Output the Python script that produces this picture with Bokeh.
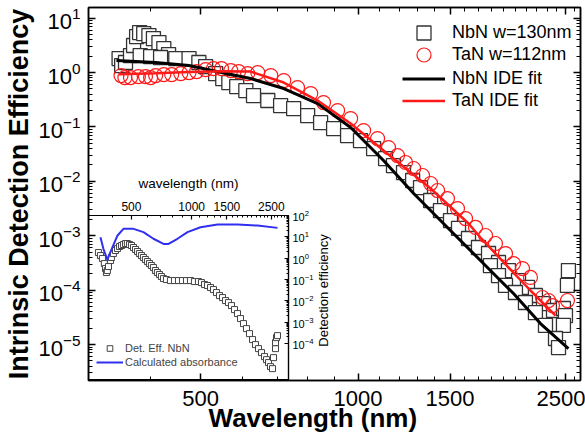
from bokeh.plotting import figure
from bokeh.models import (Range1d, LogAxis, FixedTicker, BasicTickFormatter, LinearScale,
                          Legend, LegendItem)
from bokeh.embed import file_html
from bokeh.resources import INLINE

# ---------------- main panel data ----------------
series_labels = ["NbN w=130nm", "TaN w=112nm", "NbN IDE fit", "TaN IDE fit"]
x_title = "Wavelength (nm)"
y_title = "Intrinsic Detection Efficiency"

nbn_wl = [349, 353, 359, 367, 372, 377, 382, 389, 398, 406, 416, 425, 434,
          383, 401, 419, 448, 475, 496,
          511, 534, 551, 566, 586, 610, 631, 672, 711, 753, 801, 848, 898, 955,
          1011, 1071, 1129, 1169, 1222, 1272, 1317, 1377, 1438, 1503, 1557, 1627,
          1700, 1777, 1857, 1940, 2028, 2110, 2185, 2264, 2366, 2472, 2494, 2472,
          1792, 1857, 1915, 2001, 2091, 2185, 2284, 2387, 2419,
          2527, 2516]
nbn_de = [1.81, 1.345, 1.53, 2.05, 3.14, 4.59, 5.43, 5.21, 4.79, 4.22, 3.56, 2.76, 2.14,
          2.05, 1.97, 1.89, 1.81, 1.81, 1.53,
          1.29, 0.958, 0.776, 0.655, 0.553, 0.467, 0.378, 0.306, 0.247, 0.218, 0.162, 0.1205, 0.0935, 0.0695,
          0.0562, 0.0401, 0.0262, 0.0195, 0.0145, 0.01035, 0.00769, 0.00444, 0.0029, 0.0019, 0.00136, 0.00089,
          6.07e-4, 4.71e-4, 3.22e-4, 2.29e-4, 1.5e-4, 1.12e-4, 7.96e-5, 5.67e-5, 4.22e-5, 4.59e-5, 3.41e-5, 2.24e-5,
          2.83e-4, 1.85e-4, 1.22e-4, 9.04e-5, 5.92e-5, 3.87e-5, 2.24e-5, 1.29e-5, 8.8e-6,
          2.29e-4, 1.22e-4]

tan_wl = [352, 358, 367, 380, 392, 401, 410, 425, 440, 458, 475, 491, 511, 529, 548, 571,
          591, 615, 643, 681, 721, 766, 812, 859, 914, 968, 1025, 1090, 1144, 1190, 1233,
          1278, 1329, 1377, 1420, 1483, 1550, 1606, 1678, 1754, 1832, 1915, 1984, 2064,
          2138, 2254, 2315, 2355, 2516]
tan_de = [0.881, 0.809, 0.809, 0.844, 0.844, 0.809, 0.881, 0.919, 0.919, 0.958, 1.0, 1.043,
          1.135, 1.184, 1.184, 1.088, 1.043, 0.958, 1.0, 0.881, 0.713, 0.530, 0.411, 0.281,
          0.200, 0.1426, 0.0859, 0.0612, 0.0418, 0.0298, 0.0222, 0.0172, 0.0128, 0.00912,
          0.00678, 0.00483, 0.00316, 0.00207, 0.00142, 0.001009, 7.19e-4, 4.71e-4, 3.08e-4,
          2.49e-4, 1.71e-4, 7.31e-5, 6.44e-5, 5.21e-5, 6.44e-5]

nbn_fit_wl = [345, 410, 475, 548, 623, 721, 837, 968, 1119, 1278, 1483, 1715, 1984, 2234, 2527]
nbn_fit_de = [1.66, 1.53, 1.345, 1.0, 0.776, 0.508, 0.269, 0.0975, 0.0241, 0.00597,
              0.00142, 3.5e-4, 8.66e-5, 2.43e-5, 8.44e-6]

tan_fit_wl = [349, 410, 475, 548, 623, 721, 837, 968, 1119, 1377, 1627, 1715, 1932, 2138, 2387]
tan_fit_de = [0.93, 0.97, 1.02, 1.06, 1.04, 0.655, 0.306, 0.1155, 0.0368, 0.00738,
              0.00168, 9.27e-4, 2.72e-4, 9.84e-5, 3.41e-5]

x_ticks = [500, 1000, 1500, 2500]
x_minor = [v for v in range(400, 2700, 100) if v not in x_ticks]
y_ticks = [1e-5, 1e-4, 1e-3, 1e-2, 1e-1, 1e0, 1e1]
y_minor = [m * 10.0 ** e for e in range(-6, 2) for m in range(2, 10)]

# ---------------- inset data ----------------
inset_labels = ["Det. Eff. NbN", "Calculated absorbance"]
inset_x_title = "wavelength (nm)"
inset_y_title = "Detection efficiency"

inset_wl = [342, 350, 358, 366, 371, 375, 379, 384, 393, 397, 406, 416, 426, 436, 446, 456,
            467, 477, 489, 500, 512, 524, 536, 548, 561, 574, 587, 601, 615, 629, 644, 659,
            674, 690, 706, 723, 748, 783, 820, 859, 899, 942, 986, 1032, 1081, 1119, 1159,
            1199, 1242, 1285, 1330, 1377, 1426, 1476, 1527, 1581, 1637, 1694, 1754, 1815,
            1879, 1945, 2014, 2084, 2158, 2233, 2312, 2366, 2421, 2477, 2535, 2564, 2624,
            2624, 2654, 2685]
inset_de = [1.83, 1.32, 0.957, 0.557, 0.325, 0.211, 0.262, 0.403, 0.771, 1.07, 1.64, 2.28,
            2.82, 3.51, 3.91, 4.34, 4.84, 4.84, 4.34, 3.91, 3.15, 2.54, 2.04, 1.64, 1.32,
            1.07, 0.859, 0.692, 0.557, 0.450, 0.362, 0.262, 0.211, 0.170, 0.137, 0.110,
            0.0989, 0.0887, 0.0887, 0.0887, 0.0887, 0.0887, 0.0887, 0.0796, 0.0796, 0.0714,
            0.0576, 0.0517, 0.0417, 0.0336, 0.0243, 0.0175, 0.0141, 0.0102, 0.00822, 0.00595,
            0.00386, 0.00251, 0.00146, 8.51e-4, 4.95e-4, 2.88e-4, 1.51e-4, 8.79e-5, 5.70e-5,
            3.70e-5, 2.40e-5, 1.73e-5, 1.26e-5, 8.15e-6, 6.56e-6, 2.15e-5, 5.70e-5, 1.09e-4,
            1.87e-4, 2.32e-4]

abs_wl = [350, 362, 379, 402, 426, 456, 512, 574, 644, 723, 766, 849, 953, 1107, 1346,
          1694, 2133, 2685]
abs_val = [0.868, 0.798, 0.732, 0.808, 0.879, 0.919, 0.919, 0.899, 0.859, 0.828, 0.828,
           0.859, 0.899, 0.929, 0.945, 0.945, 0.939, 0.925]

in_x_ticks = [500, 1000, 1500, 2500]
in_x_minor = [v for v in range(400, 3100, 100) if v not in in_x_ticks]
in_y_ticks = [1e-4, 1e-3, 1e-2, 1e-1, 1e0, 1e1, 1e2]
in_y_minor = [m * 10.0 ** e for e in range(-4, 2) for m in range(2, 10)]

FONT = "Liberation Sans"


def style_axis(ax, tick_in=7, minor_in=4, width=1.5):
    ax.major_tick_in = tick_in
    ax.major_tick_out = 0
    ax.minor_tick_in = minor_in
    ax.minor_tick_out = 0
    ax.axis_line_width = width
    ax.axis_line_color = "black"
    ax.major_tick_line_width = width
    ax.minor_tick_line_width = 1.0
    ax.major_tick_line_color = "black"
    ax.minor_tick_line_color = "black"
    ax.major_label_text_font = FONT
    ax.major_label_text_color = "black"
    ax.axis_label_text_font = FONT
    ax.axis_label_text_color = "black"


def place(fig, left, top):
    fig.stylesheets = [":host { position: absolute !important; left: %dpx !important; "
                       "top: %dpx !important; z-index: 10; }" % (left, top)]


# ---------------- main figure ----------------
p = figure(width=585, height=440, x_axis_type="log", y_axis_type="log",
           x_range=Range1d(305, 2665), y_range=Range1d(2.18e-6, 15.7),
           output_backend="svg", toolbar_location=None,
           min_border_left=88, min_border_right=5, min_border_top=7, min_border_bottom=60)
p.grid.visible = False
p.outline_line_color = "black"
p.outline_line_width = 1.5
p.background_fill_color = "white"

r_nbn = p.scatter(nbn_wl, nbn_de, marker="square", size=14, fill_color="white",
                  line_color="#333333", line_width=1.3)
r_tan = p.scatter(tan_wl, tan_de, marker="circle", size=14, fill_alpha=0,
                  line_color="#ff1a1a", line_width=1.2)
r_nfit = p.line(nbn_fit_wl, nbn_fit_de, line_color="black", line_width=3)
r_tfit = p.line(tan_fit_wl, tan_fit_de, line_color="#ff1a1a", line_width=2.5)

xa = p.xaxis[0]
xa.ticker = FixedTicker(ticks=x_ticks, minor_ticks=x_minor)
xa.formatter = BasicTickFormatter()
style_axis(xa)
# trailing no-break spaces move the centred title a little left, as in the reference
xa.axis_label = x_title + "\u00a0" * 6
xa.axis_label_text_font_size = "26px"
xa.axis_label_text_font_style = "bold"
xa.major_label_text_font_size = "22px"
xa.major_label_standoff = 10
xa.axis_label_standoff = -6

ya = p.yaxis[0]
ya.ticker = FixedTicker(ticks=y_ticks, minor_ticks=y_minor)
style_axis(ya)
ya.axis_label = y_title
ya.axis_label_text_font_size = "27px"
ya.axis_label_text_font_style = "bold"
ya.major_label_text_font_size = "22px"
ya.major_label_standoff = 8
ya.axis_label_standoff = 1

top_ax = LogAxis(ticker=FixedTicker(ticks=x_ticks, minor_ticks=x_minor),
                 formatter=BasicTickFormatter(),
                 major_label_text_font_size="1px", major_label_text_alpha=0,
                 major_label_standoff=0)
style_axis(top_ax)
p.add_layout(top_ax, "above")
right_ax = LogAxis(ticker=FixedTicker(ticks=y_ticks, minor_ticks=y_minor),
                   formatter=BasicTickFormatter(),
                   major_label_text_font_size="1px", major_label_text_alpha=0,
                   major_label_standoff=0)
style_axis(right_ax)
p.add_layout(right_ax, "right")

# one single-row legend per series so rows can sit closer than the glyph boxes
legend_rows = [(series_labels[0], r_nbn, 330.5), (series_labels[1], r_tan, 308.5),
               (series_labels[2], r_nfit, 284.5), (series_labels[3], r_tfit, 262.5)]
for lab, rend, vy in legend_rows:
    lg = Legend(items=[LegendItem(label=lab, renderers=[rend])], location=(314, vy),
                label_text_font=FONT, label_text_font_size="18px", label_text_color="black",
                glyph_width=43, glyph_height=35, label_height=22, spacing=0, padding=0,
                margin=0, label_standoff=7, background_fill_alpha=0, border_line_alpha=0)
    p.add_layout(lg)

# ---------------- inset figure ----------------
ins = figure(width=235, height=210, x_axis_type="log", y_axis_type="log",
             x_range=Range1d(305, 3047), y_range=Range1d(1.82e-6, 100),
             x_axis_location="above", y_axis_location="right",
             output_backend="svg", toolbar_location=None,
             min_border_left=0, min_border_right=35, min_border_top=45, min_border_bottom=0)
ins.extra_y_ranges = {"abs": Range1d(0, 1)}
ins.extra_y_scales = {"abs": LinearScale()}
ins.grid.visible = False
ins.background_fill_alpha = 0
ins.border_fill_alpha = 0
ins.outline_line_color = "black"
ins.outline_line_width = 1.2
place(ins, 88, 170)

ins.scatter(inset_wl, inset_de, marker="square", size=6, fill_color="white",
            line_color="#444444", line_width=1, legend_label=inset_labels[0])
ins.line(abs_wl, abs_val, y_range_name="abs", line_color="#2f2ff0", line_width=2,
         legend_label=inset_labels[1])

ix = ins.xaxis[0]
ix.ticker = FixedTicker(ticks=in_x_ticks, minor_ticks=in_x_minor)
ix.formatter = BasicTickFormatter()
style_axis(ix, tick_in=4, minor_in=2, width=1.2)
ix.major_label_text_font_size = "12px"
ix.major_label_standoff = 5
ix.axis_label = inset_x_title
ix.axis_label_text_font_size = "13.5px"
ix.axis_label_text_font_style = "normal"
ix.axis_label_standoff = 8

iy = ins.yaxis[0]
iy.ticker = FixedTicker(ticks=in_y_ticks, minor_ticks=in_y_minor)
style_axis(iy, tick_in=4, minor_in=2, width=1.2)
iy.major_label_text_font_size = "11px"
iy.major_label_standoff = 4

il = ins.legend[0]
il.location = (8, 11)
il.label_text_font = FONT
il.label_text_font_size = "11px"
il.glyph_width = 27
il.glyph_height = 14
il.label_height = 14
il.spacing = 0
il.padding = 0
il.margin = 0
il.label_standoff = 2
il.background_fill_alpha = 0
il.border_line_alpha = 0

# inset's right-hand title, reading bottom-to-top as in the reference: drawn as the
# (left) axis title of a small transparent figure sitting just right of the inset
tfig = figure(width=30, height=150, x_axis_location=None, y_axis_location="left",
              x_range=Range1d(0, 1), y_range=Range1d(0, 1),
              output_backend="svg", toolbar_location=None,
              min_border_left=20, min_border_right=0, min_border_top=0, min_border_bottom=0)
tfig.grid.visible = False
tfig.outline_line_color = None
tfig.background_fill_alpha = 0
tfig.border_fill_alpha = 0
ta = tfig.yaxis[0]
ta.axis_line_color = None
ta.major_tick_line_color = None
ta.minor_tick_line_color = None
ta.major_label_text_font_size = "1px"
ta.major_label_text_alpha = 0
ta.major_label_standoff = 0
ta.axis_label = inset_y_title
ta.axis_label_text_font = FONT
ta.axis_label_text_font_size = "13px"
ta.axis_label_text_font_style = "normal"
ta.axis_label_text_color = "black"
ta.axis_label_standoff = 0
place(tfig, 312, 215)

open("out.html", "w").write(file_html([p, ins, tfig], INLINE))
